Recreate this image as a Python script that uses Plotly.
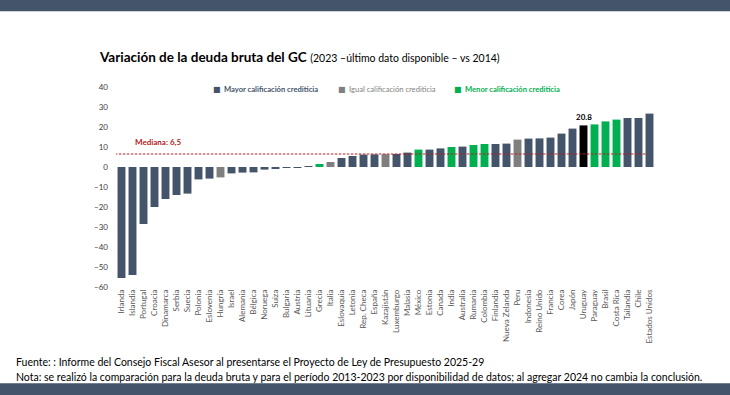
import plotly.graph_objects as go

countries = ["Irlanda", "Islandia", "Portugal", "Croacia", "Dinamarca", "Serbia", "Suecia",
             "Polonia", "Eslovenia", "Hungría", "Israel", "Alemania", "Bélgica", "Noruega",
             "Suiza", "Bulgaria", "Austria", "Lituania", "Grecia", "Italia", "Eslovaquia",
             "Letonia", "Rep. Checa", "España", "Kazajistán", "Luxemburgo", "Malasia", "México",
             "Estonia", "Canada", "India", "Australia", "Rumania", "Colombia", "Finlandia",
             "Nueva Zelanda", "Peru", "Indonesia", "Reino Unido", "Francia", "Corea", "Japón",
             "Uruguay", "Paraguay", "Brasil", "Costa Rica", "Tailandia", "Chile", "Estados Unidos"]
values = [-55.5, -54.0, -28.5, -20.0, -16.0, -14.0, -13.3,
          -6.2, -5.8, -5.2, -3.2, -2.8, -2.7, -1.3,
          -0.6, -0.3, -0.1, 0.1, 1.5, 2.5, 4.5,
          5.5, 6.2, 6.3, 6.4, 6.5, 7.2, 8.7,
          8.7, 9.3, 10.0, 10.2, 11.0, 11.5, 11.5,
          11.7, 13.7, 14.2, 14.3, 14.7, 16.7, 19.2,
          20.8, 21.3, 22.8, 23.7, 24.5, 24.5, 26.7]
# rating change: M = mayor, I = igual, N = menor, U = Uruguay
rating = ["M", "M", "M", "M", "M", "M", "M",
          "M", "M", "I", "M", "M", "M", "M",
          "M", "M", "M", "M", "N", "I", "M",
          "M", "M", "M", "I", "M", "M", "N",
          "M", "M", "N", "M", "N", "N", "M",
          "M", "I", "M", "M", "M", "M", "M",
          "U", "N", "N", "N", "M", "M", "M"]
median_value = 6.5
legend_labels = ["Mayor calificación crediticia", "Igual calificación crediticia", "Menor calificación crediticia"]
y_ticks = [40, 30, 20, 10, 0, -10, -20, -30, -40, -50, -60]

NAVY = "#44546a"
GRAY = "#7f7f7f"
GREEN = "#00b050"
RED = "#b22222"
FONT = "Lato"
color_map = {"M": NAVY, "I": GRAY, "N": GREEN, "U": "#000000"}
colors = [color_map[r] for r in rating]

L, R, T, B = 115.5, 74.5, 86.7, 108.3
PW, PH = 730 - L - R, 395 - T - B


def px_x(x):
    return (x - L) / PW


def px_y(y):
    return 1 - (y - T) / PH


fig = go.Figure()
fig.add_trace(go.Bar(x=countries, y=values, marker=dict(color=colors, line=dict(width=0)),
                     width=0.72, showlegend=False, hoverinfo="skip"))

# Uruguay label
uy = countries.index("Uruguay")
fig.add_annotation(x=countries[uy], y=values[uy], text="<b>20.8</b>", showarrow=False,
                   yanchor="bottom", yshift=1, font=dict(size=8, color="#000000", family=FONT))

# median line
fig.add_shape(type="line", xref="x", yref="y", x0=-0.6, x1=47.7, y0=median_value, y1=median_value,
              line=dict(color=RED, width=1.1, dash="2.5px,1.5px"), layer="above")
fig.add_annotation(xref="x", yref="y", x=1.0, y=median_value, text="<b>Mediana: 6,5</b>", showarrow=False,
                   xanchor="left", yanchor="bottom", yshift=5,
                   font=dict(size=8, color=RED, family=FONT))

# title
fig.add_annotation(xref="paper", yref="paper", x=px_x(96), y=px_y(57),
                   text="<b>Variación de la deuda bruta del GC</b> <span style='font-size:10.5px'>(2023 –último dato disponible – vs 2014)</span>",
                   showarrow=False, xanchor="left", yanchor="middle",
                   font=dict(size=13.5, color="#000000", family=FONT))

# legend
leg_colors = [NAVY, GRAY, GREEN]
leg_x = [211, 336, 452]
for lab, col, lx, bold in zip(legend_labels, leg_colors, leg_x, [True, False, True]):
    fig.add_annotation(xref="paper", yref="paper", x=px_x(lx), y=px_y(89),
                       text="■", showarrow=False, xanchor="left", yanchor="middle",
                       font=dict(size=8, color=col, family="DejaVu Sans"))
    fig.add_annotation(xref="paper", yref="paper", x=px_x(lx + 11), y=px_y(89),
                       text=("<b>%s</b>" % lab) if bold else lab, showarrow=False,
                       xanchor="left", yanchor="middle",
                       font=dict(size=7.6, color=col, family=FONT))

# footer
fig.add_annotation(xref="paper", yref="paper", x=px_x(13), y=px_y(362),
                   text="Fuente: : Informe del Consejo Fiscal Asesor al presentarse el Proyecto de Ley de Presupuesto 2025-29",
                   showarrow=False, xanchor="left", yanchor="middle",
                   font=dict(size=10.5, color="#000000", family=FONT))
fig.add_annotation(xref="paper", yref="paper", x=px_x(13), y=px_y(377),
                   text="Nota: se realizó la comparación para la deuda bruta y para el período 2013-2023 por disponibilidad de datos; al agregar 2024 no cambia la conclusión.",
                   showarrow=False, xanchor="left", yanchor="middle",
                   font=dict(size=10.5, color="#000000", family=FONT))

# top and bottom bands
fig.add_shape(type="rect", xref="paper", yref="paper", x0=-1, x1=2,
              y0=px_y(11), y1=px_y(-5), fillcolor=NAVY, line=dict(width=0), layer="above")
fig.add_shape(type="rect", xref="paper", yref="paper", x0=-1, x1=2,
              y0=px_y(383), y1=px_y(400), fillcolor=NAVY, line=dict(width=0), layer="above")

fig.update_layout(
    width=730, height=395,
    margin=dict(l=L, r=R, t=T, b=B, autoexpand=False),
    paper_bgcolor="white", plot_bgcolor="white",
    bargap=0.28,
    font=dict(family=FONT, size=8, color="#595959"),
    xaxis=dict(type="category", tickangle=-90, tickfont=dict(size=8, color="#595959"),
               showgrid=False, showline=False, zeroline=False, ticks="", range=[-0.5, 48.5]),
    yaxis=dict(range=[-60, 40], tickvals=y_ticks, showgrid=False, showline=False, zeroline=False,
               ticks="", tickfont=dict(size=8, color="#404040"), ticklabelstandoff=7),
)

fig.write_html("out.html", config={"displayModeBar": False},
               post_script="document.body.style.margin='0';document.body.style.padding='0';")
